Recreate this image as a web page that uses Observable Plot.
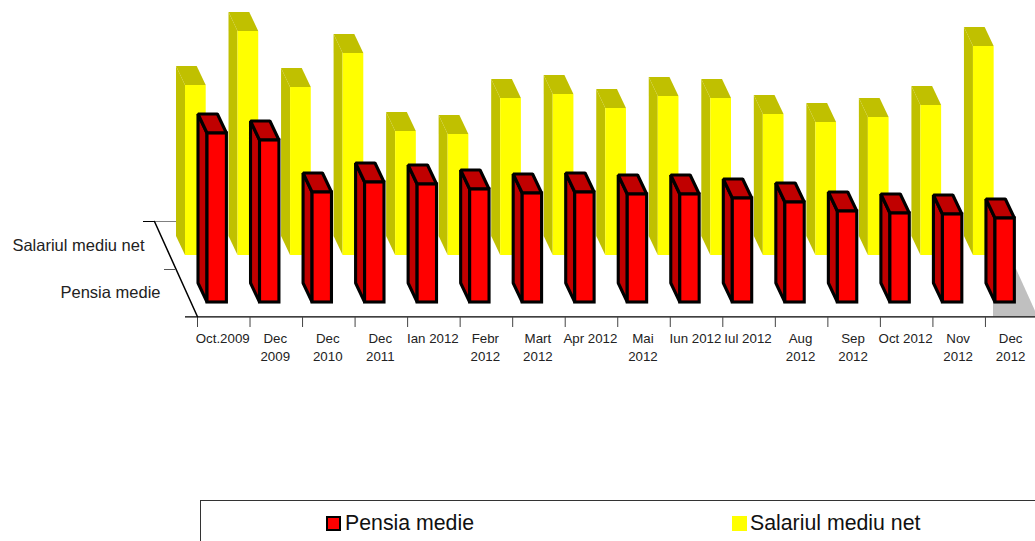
<!DOCTYPE html>
<html>
<head>
<meta charset="utf-8">
<script src="https://cdn.jsdelivr.net/npm/d3@7"></script>
<script src="https://cdn.jsdelivr.net/npm/@observablehq/plot@0.6"></script>
<style>
html,body{margin:0;padding:0;background:#fff;overflow:hidden;width:1035px;height:541px;font-family:"Liberation Sans",Arial,sans-serif;}
#chart svg{display:block;}
#legend{position:absolute;left:200px;top:500px;width:835px;height:41px;border-top:1px solid #333;border-left:1px solid #333;box-sizing:border-box;}
#legend span{position:absolute;}
.sw{top:15px;width:15px;height:15px;box-sizing:border-box;}
.lb{top:10px;font-size:21.3px;line-height:25px;color:#111;white-space:nowrap;}
</style>
</head>
<body>
<div id="chart"></div>
<div id="legend">
  <span class="sw" style="left:125px;background:#f00;border:2.5px solid #000;"></span>
  <span class="lb" style="left:144px;">Pensia medie</span>
  <span class="sw" style="left:531px;background:#ff0;"></span>
  <span class="lb" style="left:549px;">Salariul mediu net</span>
</div>
<script>
// Category labels
const categories = ["Oct.2009","Dec\n2009","Dec\n2010","Dec\n2011","Ian 2012","Febr\n2012","Mart\n2012","Apr 2012","Mai\n2012","Iun 2012","Iul 2012","Aug\n2012","Sep\n2012","Oct 2012","Nov\n2012","Dec\n2012"];
// Series values (the chart prints no value axis)
const pensia = [169,162,110,120,118,113,109,110,108,108,104,100,91,89,88,84];
const salariul = [170,224,168,202,124,121,157,161,147,159,157,141,133,138,150,209];
const seriesNames = ["Salariul mediu net","Pensia medie"];

// 3D projection of the chart, in scale units
const pxPerSlot = 52.53;
const depthX = 9 / pxPerSlot, depthY = 19;
const barW = 19.4 / pxPerSlot;

function faces(values, floorX, floorY, width) {
  const left = [], top = [], front = [];
  values.forEach((v, i) => {
    const xb = i + floorX, xf = xb + depthX;
    left.push({i, x: xb, y1: floorY + depthY, y2: floorY + depthY + v},
              {i, x: xf, y1: floorY, y2: floorY + v});
    top.push({i, y: floorY + v, x1: xf, x2: xf + width},
             {i, y: floorY + depthY + v, x1: xb, x2: xb + width});
    front.push({i, x1: xf, x2: xf + width, y1: floorY, y2: floorY + v});
  });
  return {left, top, front};
}
const red = faces(pensia, 1 / pxPerSlot, 0, barW);
const yel = faces(salariul, -21 / pxPerSlot, 47, 20.7 / pxPerSlot);

const axisY = -14.3, tickY = -25;
const ticks = d3.range(categories.length);
const slotX = px => (px - 197) / pxPerSlot;
const backY = 81, midY = 33;

const floor = [
  {y: axisY, x1: slotX(993), x2: 15 + 52.53 / pxPerSlot},
  {y: midY, x1: slotX(993), x2: 15 + (52.53 - (midY - axisY) * 43 / 95) / pxPerSlot}
];
const labelRows = [
  {name: seriesNames[0], x: slotX(144), y: 57},
  {name: seriesNames[1], x: slotX(160), y: 10}
];

function bar3d(f, sideFill, topFill, frontFill, stroke, sw) {
  const s = stroke ? {stroke, strokeWidth: sw, strokeLinejoin: "miter"} : {};
  return [
    Plot.areaY(f.left, {x: "x", y1: "y1", y2: "y2", z: "i", fill: sideFill, ...s}),
    Plot.areaX(f.top, {y: "y", x1: "x1", x2: "x2", z: "i", fill: topFill, ...s}),
    Plot.rect(f.front, {x1: "x1", x2: "x2", y1: "y1", y2: "y2", fill: frontFill, ...s})
  ];
}

const chart = Plot.plot({
  width: 1035, height: 500,
  marginTop: 0, marginRight: 0, marginBottom: 0, marginLeft: 0,
  x: {type: "linear", domain: [-197 / pxPerSlot, (1035 - 197) / pxPerSlot], range: [0, 1035], axis: null},
  y: {type: "linear", domain: [-198, 302], range: [500, 0], axis: null},
  style: {fontFamily: "'Liberation Sans',Arial,sans-serif", background: "#fff"},
  marks: [
    Plot.areaX(floor, {y: "y", x1: "x1", x2: "x2", fill: "#c0c0c0"}),
    // back-left wall ticks
    Plot.ruleY([backY], {x1: slotX(154), x2: slotX(176), stroke: "#808080"}),
    Plot.ruleY([backY], {x1: slotX(143), x2: slotX(155), stroke: "#000"}),
    Plot.ruleY([midY], {x1: slotX(164), x2: slotX(175), stroke: "#555"}),
    ...bar3d(yel, "#c0c000", "#c0c000", "#ffff00"),
    ...bar3d(red, "#c00000", "#c00000", "#ff0000", "#000", 3.1),
    // axes
    Plot.ruleY([axisY], {x1: slotX(185), x2: slotX(1035), stroke: "#000", strokeWidth: 1.2}),
    Plot.ruleX(ticks, {y1: axisY, y2: tickY, stroke: "#444"}),
    Plot.line([{x: slotX(154), y: backY}, {x: 0, y: axisY}], {x: "x", y: "y", stroke: "#000"}),
    // labels
    Plot.text(categories, {
      x: (d, i) => i + 0.48, y: -27.5, text: d => d,
      lineAnchor: "top", lineHeight: 1.38, fontSize: 13.3, fill: "#222"
    }),
    Plot.text(labelRows, {x: "x", y: "y", text: "name", textAnchor: "end", fontSize: 16.5, fill: "#222"})
  ]
});
document.getElementById("chart").append(chart);
</script>
</body>
</html>
